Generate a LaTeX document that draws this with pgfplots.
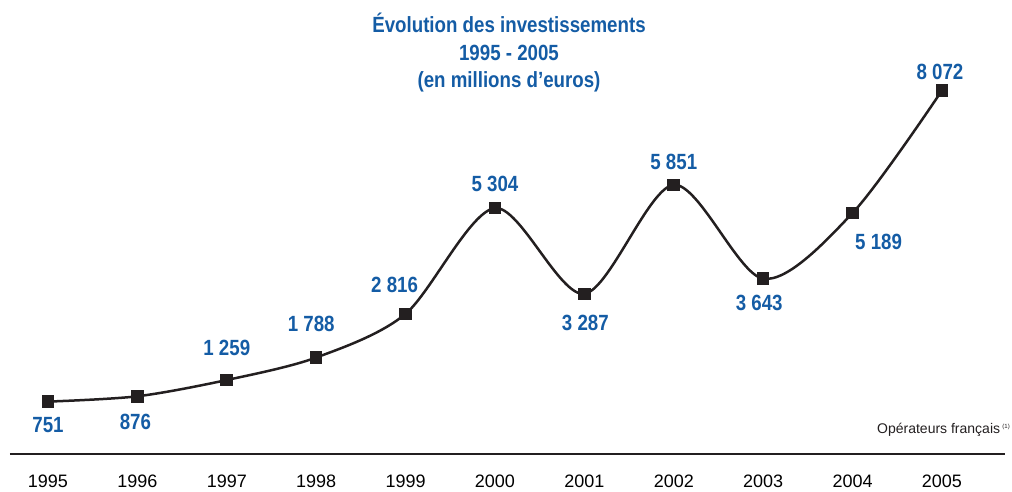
\documentclass[border=0pt]{standalone}
\usepackage{fontspec}
\setmainfont{Liberation Sans}
\newfontfamily\cond[FakeStretch=0.85]{Liberation Sans}
\usepackage{pgfplots}
\pgfplotsset{compat=1.18}
\usepackage{pgfplotstable}
\definecolor{titleblue}{RGB}{20,92,165}
\definecolor{lineblack}{RGB}{35,31,32}

% annee, valeur, etiquette, decalage de l'etiquette (pt)
\pgfplotstableread{
year value label dx dy
1995 751  {751}   0  -23
1996 876  {876}   -2 -26
1997 1259 {1 259} 0  32
1998 1788 {1 788} -5 34
1999 2816 {2 816} -11 29
2000 5304 {5 304} 0  24
2001 3287 {3 287} 1  -29
2002 5851 {5 851} 0  23
2003 3643 {3 643} -4 -24
2004 5189 {5 189} 26 -29
2005 8072 {8 072} -2 19
}\invest

\begin{document}
\begin{tikzpicture}
\useasboundingbox (0,0) rectangle (1012pt,491pt);
\begin{axis}[
  at={(10pt,37pt)}, anchor=south west,
  scale only axis, width=995pt, height=454pt,
  xmin=1994.575, xmax=2005.705, ymin=-482, ymax=10200,
  axis x line=bottom, axis y line=none,
  x axis line style={-, line width=2.5pt, color=lineblack},
  xtick={1995,1996,...,2005},
  xticklabels={1995,1996,1997,1998,1999,2000,2001,2002,2003,2004,2005},
  xticklabel style={font=\fontsize{18}{20}\selectfont, yshift=-17pt},
  major tick length=0pt,
  clip=false,
]
  \addplot[
    color=lineblack, line width=2.5pt, smooth,
    mark=square*, mark size=5.8pt,
    mark options={fill=lineblack, draw=lineblack, line width=0pt},
    point meta=explicit symbolic,
    visualization depends on={\thisrow{dx} \as \dx},
    visualization depends on={\thisrow{dy} \as \dy},
    nodes near coords,
    nodes near coords style={anchor=center, xshift=\dx pt, yshift=\dy pt,
      font=\cond\bfseries\fontsize{22}{24}\selectfont, text=titleblue},
  ] table[x=year, y=value, meta=label] {\invest};
\end{axis}
\node[anchor=base, font=\cond\bfseries\fontsize{22}{24}\selectfont, text=titleblue]
  at (509pt,458pt) {Évolution des investissements};
\node[anchor=base, font=\cond\bfseries\fontsize{22}{24}\selectfont, text=titleblue]
  at (509pt,430pt) {1995 - 2005};
\node[anchor=base, font=\cond\bfseries\fontsize{22}{24}\selectfont, text=titleblue]
  at (509pt,403pt) {(en millions d’euros)};
\node[anchor=base east, inner sep=0pt, font=\fontsize{14}{16}\selectfont, text=lineblack]
  at (1010pt,58pt) {Opérateurs français\,\raisebox{5pt}{\fontsize{6}{7}\selectfont(1)}};
\end{tikzpicture}
\end{document}
